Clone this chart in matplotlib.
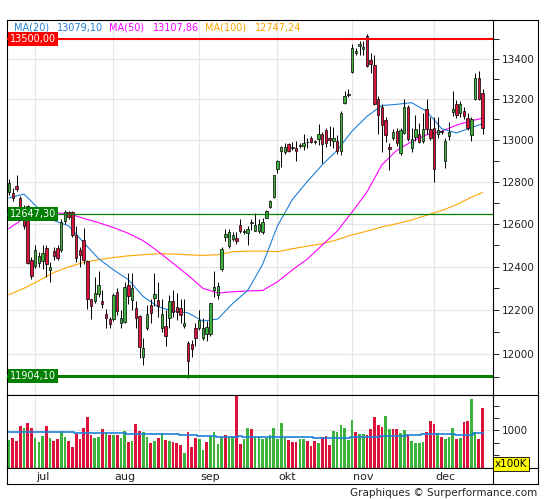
import numpy as np
import matplotlib
matplotlib.use("Agg")
import matplotlib.pyplot as plt
from matplotlib.lines import Line2D
from matplotlib.ticker import FixedLocator, NullFormatter, FuncFormatter
from matplotlib.transforms import blended_transform_factory

# daily candles, 22 jun -> 20 dec
opens = [12750, 12745, 12780, 12720, 12678, 12683, 12432, 12405, 12418, 12428,
         12487, 12382, 12473, 12487, 12478, 12614, 12656, 12656, 12545, 12478,
         12523, 12427, 12249, 12240, 12275, 12240, 12182, 12161, 12160, 12284,
         12143, 12147, 12315, 12248, 12209, 12174, 11990, 12117, 12222, 12257,
         12248, 12117, 12126, 12165, 12240, 12214, 12209, 12126, 12052, 12048,
         12117, 12117, 12074, 12090, 12091, 12293, 12271, 12387, 12540, 12495,
         12528, 12532, 12592, 12559, 12555, 12605, 12568, 12568, 12559, 12628,
         12678, 12725, 12862, 12948, 12944, 12978, 12963, 12960, 12972, 12970,
         12988, 13010, 12988, 13005, 13029, 13048, 13010, 12995, 12995, 12948,
         13179, 13222, 13332, 13430, 13466, 13450, 13512, 13395, 13371, 13198,
         13159, 13096, 12968, 13010, 13043, 12935, 13034, 13163, 12963, 13015,
         13029, 12996, 13150, 13053, 13058, 13029, 13038, 12896, 13019, 13135,
         13178, 13130, 13140, 13106, 13024, 13198, 13306, 13232]
highs = [12810, 12770, 12830, 12730, 12690, 12690, 12445, 12500, 12470, 12500,
         12500, 12420, 12490, 12500, 12620, 12665, 12662, 12660, 12590, 12490,
         12578, 12430, 12250, 12350, 12380, 12290, 12205, 12170, 12280, 12300,
         12200, 12330, 12370, 12370, 12240, 12180, 12075, 12225, 12250, 12370,
         12330, 12250, 12200, 12270, 12290, 12280, 12250, 12250, 12060, 12065,
         12140, 12200, 12165, 12150, 12235, 12380, 12330, 12490, 12575, 12575,
         12560, 12560, 12620, 12575, 12590, 12620, 12650, 12620, 12625, 12665,
         12710, 12830, 12905, 12970, 12985, 12985, 12990, 12995, 12985, 13030,
         13010, 13020, 13000, 13080, 13040, 13060, 13070, 13065, 13025, 13140,
         13240, 13250, 13475, 13455, 13490, 13490, 13525, 13430, 13420, 13215,
         13175, 13110, 12985, 13055, 13060, 13060, 13200, 13170, 13060, 13120,
         13082, 13130, 13200, 13110, 13110, 13110, 13050, 13010, 13085, 13240,
         13195, 13190, 13160, 13130, 13110, 13330, 13340, 13250]
lows = [12735, 12705, 12755, 12660, 12575, 12410, 12345, 12395, 12400, 12390,
        12350, 12330, 12430, 12430, 12470, 12600, 12620, 12540, 12420, 12400,
        12410, 12205, 12160, 12235, 12260, 12210, 12120, 12120, 12150, 12180,
        12120, 12140, 12230, 12200, 12117, 11985, 11955, 12110, 12140, 12220,
        12170, 12100, 12040, 12120, 12170, 12155, 12140, 12120, 11896, 11990,
        12040, 12110, 12065, 12060, 12085, 12260, 12250, 12380, 12520, 12485,
        12520, 12505, 12555, 12550, 12500, 12570, 12565, 12555, 12550, 12625,
        12675, 12720, 12840, 12870, 12930, 12940, 12950, 12900, 12960, 12950,
        12960, 12985, 12980, 12975, 12890, 12965, 12970, 12960, 12930, 12925,
        13175, 13210, 13330, 13420, 13420, 13420, 13360, 13330, 13170, 13030,
        12940, 12990, 12853, 13000, 12970, 12925, 13030, 12995, 12940, 12995,
        12985, 12985, 13030, 13000, 12800, 13010, 13030, 12865, 13000, 13115,
        13105, 13110, 13100, 13050, 12995, 13195, 13195, 13030]
closes = [12795, 12720, 12765, 12675, 12590, 12418, 12355, 12478, 12450, 12464,
          12410, 12400, 12450, 12441, 12610, 12656, 12633, 12545, 12441, 12455,
          12432, 12249, 12218, 12280, 12315, 12227, 12165, 12139, 12270, 12196,
          12165, 12306, 12266, 12302, 12165, 12035, 12031, 12183, 12187, 12275,
          12218, 12183, 12083, 12244, 12192, 12192, 12178, 12143, 11973, 12026,
          12074, 12156, 12117, 12124, 12231, 12306, 12311, 12482, 12550, 12559,
          12545, 12518, 12564, 12568, 12573, 12610, 12596, 12600, 12610, 12661,
          12707, 12829, 12900, 12968, 12968, 12948, 12966, 12945, 12976, 12985,
          12992, 12991, 12993, 13029, 12982, 12986, 12998, 13010, 12948, 13129,
          13213, 13225, 13455, 13438, 13476, 13460, 13365, 13376, 13174, 13120,
          13071, 13024, 12958, 13039, 12986, 13048, 13163, 13005, 13005, 13053,
          12991, 13053, 13053, 13010, 12858, 13048, 13042, 12995, 13039, 13150,
          13120, 13178, 13116, 13058, 13101, 13306, 13198, 13058]

# volume (x100K) and bar colours as drawn
volume = [801, 842, 781, 1089, 1048, 1151, 1048, 842, 760, 884,
          1089, 842, 781, 822, 986, 863, 781, 658, 925, 822,
          1048, 1274, 904, 842, 863, 1027, 945, 904, 904, 904,
          842, 986, 760, 781, 1130, 986, 966, 863, 740, 781,
          842, 945, 801, 781, 760, 740, 699, 534, 966, 658,
          842, 822, 596, 760, 884, 966, 719, 842, 904, 863,
          884, 1760, 719, 822, 1048, 1027, 863, 863, 822, 842,
          904, 1048, 822, 1151, 842, 801, 760, 760, 822, 822,
          781, 678, 781, 740, 863, 884, 699, 986, 966, 1110,
          1048, 801, 1212, 966, 925, 925, 904, 1027, 1274, 1110,
          1069, 1295, 1027, 1027, 1027, 945, 1007, 904, 781, 740,
          740, 760, 966, 1192, 1130, 945, 863, 822, 863, 1048,
          822, 842, 1171, 1192, 1644, 966, 822, 1459]
vol_updown = ("GRRRGRRGGG" "RGRRGGRRRR" "RRRGGRGRGR" "GGRGRRGGRG" "RGRGRRRGRR"
              "RGGRGGGGRG" "GRRGGRGGGG" "GGGGGRRRGG" "RRRGRRRGGG" "GGGRGGRRRR"
              "RGGRRGGRGG" "GGRRRGRGGG" "RGRRGGRR")
# average volume line, level held for a number of bars
vol_avg_levels = [959, 938, 918, 897, 877, 856, 877, 856, 836, 856, 877, 897, 918, 897, 938]
vol_avg_bars = [18, 14, 14, 5, 5, 6, 1, 19, 10, 8, 7, 4, 9, 5, 3]

# moving averages read every 4th bar
ma_idx = list(range(0, 128, 4)) + [127]
ma20 = [12722, 12740, 12670, 12615, 12590, 12512, 12437, 12385, 12340, 12262, 12215,
        12196, 12188, 12150, 12160, 12231, 12290, 12410, 12590, 12715, 12800, 12880,
        12950, 13043, 13115, 13168, 13174, 13182, 13140, 13055, 13034, 13060, 13079]
ma50 = [12578, 12625, 12655, 12651, 12648, 12625, 12605, 12582, 12555, 12520, 12470,
        12415, 12360, 12300, 12278, 12284, 12288, 12290, 12330, 12385, 12435, 12500,
        12565, 12655, 12750, 12880, 12950, 12992, 13025, 13042, 13072, 13093, 13106]
ma100 = [12271, 12300, 12335, 12373, 12398, 12420, 12432, 12442, 12450, 12455, 12460,
         12458, 12455, 12452, 12455, 12469, 12472, 12472, 12469, 12483, 12495, 12506,
         12525, 12548, 12565, 12585, 12600, 12618, 12640, 12662, 12690, 12725, 12748]

months = ["jul", "aug", "sep", "okt", "nov", "dec"]
month_start = [7, 28, 51, 72, 92, 114]

levels = [13500.00, 12647.30, 11904.10]

RED = "#dc143c"
GREEN = "#3cb43c"
BLUE = "#1f7fd8"
MAGENTA = "#ff00ff"
ORANGE = "#ffa500"
GRID = "#e6e6e6"

W, H = 545, 500


def fx(px):
    return px / W


def fy(py):
    return 1 - py / H


fig = plt.figure(figsize=(W / 100, H / 100), dpi=100)
fig.patch.set_facecolor("white")

x0, x1 = 7, 493
ax = fig.add_axes([fx(x0), fy(395), fx(x1) - fx(x0), fy(20) - fy(395)])
axv = fig.add_axes([fx(x0), fy(467.5), fx(x1) - fx(x0), fy(395) - fy(467.5)])
axs = fig.add_axes([fx(x0), fy(484), fx(x1) - fx(x0), fy(467.5) - fy(484)])

o = np.array(opens, float)
h = np.array(highs, float)
l = np.array(lows, float)
c = np.array(closes, float)
idx = np.arange(len(c))

# --- price panel ---
ax.set_yscale("log")
ax.set_ylim(11820, 13595)
ax.set_xlim(-0.55, 129.8)
for m in month_start:
    ax.axvline(m, color=GRID, lw=0.8, zorder=0)
for v in range(12000, 13401, 200):
    ax.axhline(v, color=GRID, lw=0.8, zorder=0)

ax.plot(ma_idx, ma100, color=ORANGE, lw=0.8, zorder=2)
ax.plot(ma_idx, ma50, color=MAGENTA, lw=0.8, zorder=2)
ax.plot(ma_idx, ma20, color=BLUE, lw=0.8, zorder=2)

ax.vlines(idx, l, h, color="black", lw=0.7, zorder=3)
body_col = np.where(c >= o, GREEN, RED)
ax.bar(idx, np.maximum(np.abs(c - o), 3), bottom=np.minimum(o, c), width=0.65,
       color=body_col, edgecolor="black", linewidth=0.5, zorder=4)

ax.axhline(levels[0], color="red", lw=1.5, zorder=5)
ax.axhline(levels[1], color="#008000", lw=0.9, zorder=5)
ax.axhline(levels[2], color="#008000", lw=2.2, zorder=5)
trans = blended_transform_factory(ax.transAxes, ax.transData)
for val, bg in zip(levels, ["red", "#008000", "#008000"]):
    txt = f"{val:.2f}".replace(".", ",")
    ax.text(0.006, val, txt, transform=trans, ha="left", va="center", color="white",
            fontsize=7, zorder=6,
            bbox=dict(boxstyle="square,pad=0.2", fc=bg, ec="none"))

ax.yaxis.tick_right()
ax.yaxis.set_major_locator(FixedLocator(range(12000, 13401, 200)))
ax.yaxis.set_major_formatter(FuncFormatter(lambda v, p: f"{v:.0f}"))
ax.yaxis.set_minor_locator(FixedLocator(range(11900, 13600, 200)))
ax.yaxis.set_minor_formatter(NullFormatter())
ax.tick_params(axis="y", which="both", direction="out", length=4, width=0.7,
               labelsize=7.5, pad=2, colors="#222222")
ax.tick_params(axis="x", which="both", bottom=False, labelbottom=False)
for s in ax.spines.values():
    s.set_linewidth(0.8)

# --- volume panel ---
axv.set_xlim(-0.55, 129.8)
axv.set_ylim(240, 1720)
for m in month_start:
    axv.axvline(m, color=GRID, lw=0.8, zorder=0)
axv.axhline(1000, color=GRID, lw=0.8, zorder=0)
vcol = [GREEN if ch == "G" else RED for ch in vol_updown]
axv.bar(idx, volume, width=0.72, color=vcol, zorder=2)
vol_avg = np.repeat(vol_avg_levels, vol_avg_bars)
axv.plot(idx, vol_avg, drawstyle="steps-mid", color=BLUE, lw=1.2, zorder=3)
axv.yaxis.tick_right()
axv.set_yticks([250, 500, 750, 1000, 1250, 1500])
axv.set_yticklabels(["", "", "", "1000", "", ""])
axv.tick_params(axis="y", direction="out", length=4, width=0.7, labelsize=7.5,
                pad=2, colors="#222222")
axv.tick_params(axis="x", bottom=False, labelbottom=False)
for s in axv.spines.values():
    s.set_linewidth(0.8)

# --- month strip ---
axs.set_xlim(-0.55, 129.8)
axs.set_ylim(0, 1)
axs.set_xticks([])
axs.set_yticks([])
for name, m in zip(months, month_start):
    axs.text(m + 0.3, 0.45, name, ha="left", va="center", fontsize=8, color="#222222")
for s in axs.spines.values():
    s.set_linewidth(0.8)

# outer frame on the right
for xs, ys in [((x1, 538), (20, 20)), ((538, 538), (20, 484)), ((x1, 538), (484, 484)),
               ((x1, 538), (395, 395)), ((x1, 538), (467.5, 467.5))]:
    fig.add_artist(Line2D([fx(xs[0]), fx(xs[1])], [fy(ys[0]), fy(ys[1])],
                          transform=fig.transFigure, color="black", lw=0.8))

fig.text(fx(495), fy(464), "x100K", ha="left", va="center", fontsize=7.5,
         bbox=dict(boxstyle="square,pad=0.15", fc="yellow", ec="black", lw=0.6))

# legend line on top
for txt, xp, col in [("MA(20)", 14, BLUE), ("13079,10", 57, BLUE),
                     ("MA(50)", 109, MAGENTA), ("13107,86", 153, MAGENTA),
                     ("MA(100)", 205, ORANGE), ("12747,24", 255, ORANGE)]:
    fig.text(fx(xp), fy(27.5), txt, ha="left", va="center", fontsize=7, color=col)

fig.text(fx(537), fy(493), "Graphiques \u00a9 Surperformance.com", ha="right",
         va="center", fontsize=7.5, color="#222222")

fig.savefig("out.png", dpi=100)
